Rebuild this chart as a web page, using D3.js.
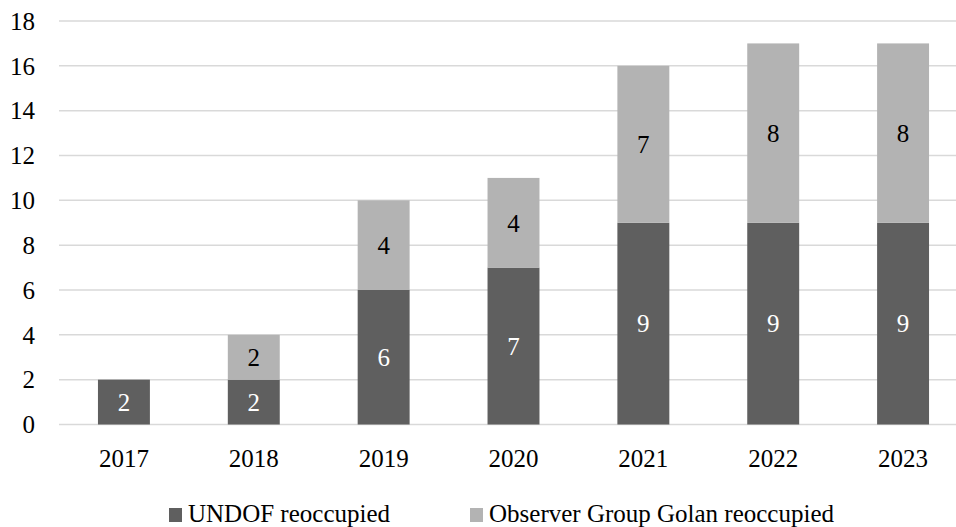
<!DOCTYPE html>
<html lang="en">
<head>
    <meta charset="UTF-8">
    <script src="https://cdnjs.cloudflare.com/ajax/libs/d3/7.8.5/d3.min.js"></script>
    <style>
        body { margin: 0; background: #fff; }
    </style>
</head>
<body>
    <svg width="956" height="527"></svg>
    <script>
        const years = ['2017', '2018', '2019', '2020', '2021', '2022', '2023'];
        const undof = [2, 2, 6, 7, 9, 9, 9];
        const ogg = [0, 2, 4, 4, 7, 8, 8];
        const yTicks = [0, 2, 4, 6, 8, 10, 12, 14, 16, 18];
        const seriesNames = ['UNDOF reoccupied', 'Observer Group Golan reoccupied'];
        const colors = ['#5f5f5f', '#b3b3b3'];
        const labelColors = ['#ffffff', '#000000'];

        const svg = d3.select('svg');
        const fontSize = 25;
        const serif = "'Liberation Serif', 'Times New Roman', 'DejaVu Serif', serif";

        const x = d3.scaleBand().domain(years).range([59, 968])
            .paddingInner(0.6).paddingOuter(0.3);
        const y = d3.scaleLinear().domain([0, 18]).range([424.5, 21]);

        // gridlines
        svg.append('g').selectAll('line')
            .data(yTicks)
            .enter().append('line')
            .attr('x1', 59).attr('x2', 956)
            .attr('y1', d => y(d)).attr('y2', d => y(d))
            .style('stroke', '#d9d9d9')
            .style('stroke-width', '1.5px');

        // y labels
        svg.append('g').selectAll('text')
            .data(yTicks)
            .enter().append('text')
            .attr('x', 35).attr('y', d => y(d))
            .attr('dy', '0.35em')
            .attr('text-anchor', 'end')
            .style('font-family', serif)
            .style('font-size', fontSize + 'px')
            .text(d => d);

        // stacked data
        const rows = years.map((yr, i) => ({ year: yr, undof: undof[i], ogg: ogg[i] }));
        const stacked = d3.stack().keys(['undof', 'ogg'])(rows);

        const layer = svg.selectAll('g.layer')
            .data(stacked)
            .enter().append('g')
            .attr('class', 'layer')
            .style('fill', (d, i) => colors[i]);

        layer.selectAll('rect')
            .data(d => d.filter(s => s[1] > s[0]))
            .enter().append('rect')
            .attr('x', d => x(d.data.year))
            .attr('width', x.bandwidth())
            .attr('y', d => y(d[1]))
            .attr('height', d => y(d[0]) - y(d[1]));

        layer.each(function (s, i) {
            d3.select(this).selectAll('text')
                .data(s.filter(p => p[1] > p[0]))
                .enter().append('text')
                .attr('x', d => x(d.data.year) + x.bandwidth() / 2)
                .attr('y', d => y((d[0] + d[1]) / 2))
                .attr('dy', '0.35em')
                .attr('text-anchor', 'middle')
                .style('fill', labelColors[i])
                .style('font-family', serif)
                .style('font-size', fontSize + 'px')
                .text(d => d[1] - d[0]);
        });

        // x labels
        svg.append('g').selectAll('text')
            .data(years)
            .enter().append('text')
            .attr('x', d => x(d) + x.bandwidth() / 2)
            .attr('y', 458)
            .attr('dy', '0.35em')
            .attr('text-anchor', 'middle')
            .style('font-family', serif)
            .style('font-size', fontSize + 'px')
            .text(d => d);

        // legend
        const legendX = [169, 470];
        const legend = svg.selectAll('g.legend')
            .data(seriesNames)
            .enter().append('g')
            .attr('class', 'legend')
            .attr('transform', (d, i) => `translate(${legendX[i]}, 508)`);
        legend.append('rect')
            .attr('width', 13).attr('height', 14)
            .style('fill', (d, i) => colors[i]);
        legend.append('text')
            .attr('x', 19).attr('y', 5)
            .attr('dy', '0.35em')
            .style('font-family', serif)
            .style('font-size', fontSize + 'px')
            .text(d => d);
    </script>
</body>
</html>
